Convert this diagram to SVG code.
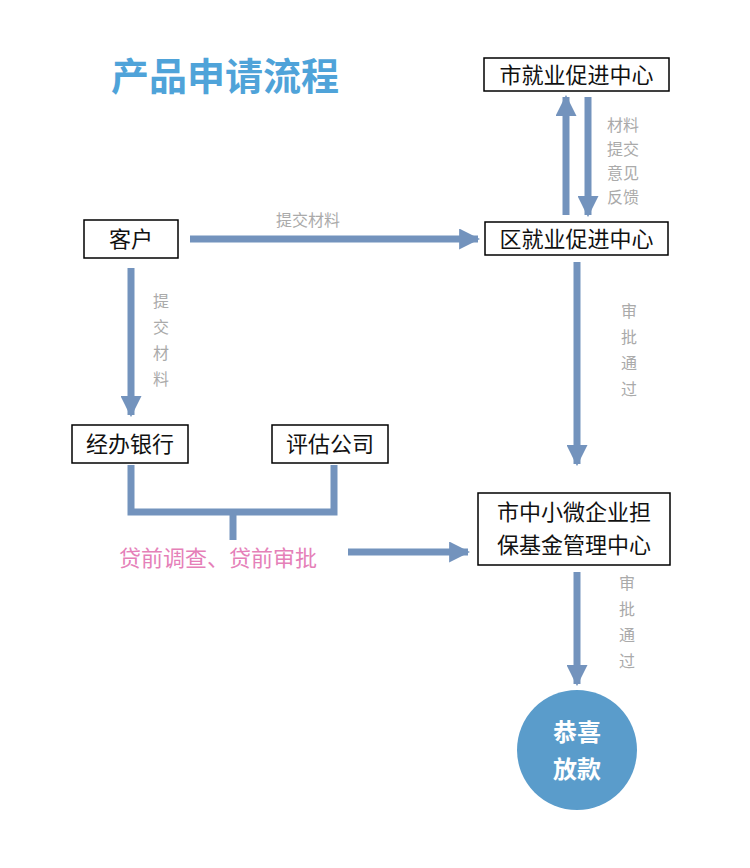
<svg xmlns="http://www.w3.org/2000/svg" width="750" height="868" viewBox="0 0 750 868">
<defs>
<marker id="ah" viewBox="0 0 10 10" refX="9" refY="5" markerWidth="3" markerHeight="3" orient="auto" markerUnits="strokeWidth"><path d="M0,0 L10,5 L0,10 z" fill="#7393bd"/></marker>
<style>
.box{fill:#fff;stroke:#000;stroke-width:1.5}
.t{font-family:"Liberation Sans","Noto Sans CJK SC",sans-serif;font-size:22px;fill:#111;text-anchor:middle}
.lb{font-family:"Liberation Sans","Noto Sans CJK SC",sans-serif;font-size:16px;fill:#aaa;text-anchor:middle}
.c{fill:none;stroke:#7393bd;stroke-width:7}
.a{marker-end:url(#ah)}
</style>
</defs>
<rect width="750" height="868" fill="#fff"/>
<text x="225" y="90" font-family="'Noto Sans CJK SC',sans-serif" font-weight="bold" font-size="38" fill="#4fa3d9" text-anchor="middle">产品申请流程</text>
<g id="connectors">
<line class="c a" x1="190" y1="239" x2="478" y2="239"/>
<line class="c a" x1="566" y1="215" x2="566" y2="97"/>
<line class="c a" x1="588" y1="97" x2="588" y2="215"/>
<line class="c a" x1="131" y1="268" x2="131" y2="415"/>
<line class="c a" x1="577" y1="262" x2="577" y2="464"/>
<polyline class="c" points="131,465 131,512 334,512 334,465"/>
<line class="c" x1="233" y1="512" x2="233" y2="540"/>
<line class="c a" x1="348" y1="552" x2="468" y2="552"/>
<line class="c a" x1="577" y1="572" x2="577" y2="684"/>
</g>
<g id="labels">
<text class="lb" x="308" y="226">提交材料</text>
<text class="lb" x="623" y="131">材料</text><text class="lb" x="623" y="155">提交</text><text class="lb" x="623" y="179">意见</text><text class="lb" x="623" y="203">反馈</text>
<text class="lb" x="161" y="307">提</text><text class="lb" x="161" y="333">交</text><text class="lb" x="161" y="359">材</text><text class="lb" x="161" y="385">料</text>
<text class="lb" x="629" y="317">审</text><text class="lb" x="629" y="343">批</text><text class="lb" x="629" y="369">通</text><text class="lb" x="629" y="395">过</text>
<text class="lb" x="627" y="589">审</text><text class="lb" x="627" y="615">批</text><text class="lb" x="627" y="641">通</text><text class="lb" x="627" y="667">过</text>
<text x="218" y="566" font-family="'Liberation Sans','Noto Sans CJK SC',sans-serif" font-size="22" fill="#e580b8" text-anchor="middle">贷前调查、贷前审批</text>
</g>
<g id="n1"><rect class="box" x="484" y="58" width="185" height="33"/><text class="t" x="576.5" y="83">市就业促进中心</text></g>
<g id="n2"><rect class="box" x="485" y="222" width="183" height="33"/><text class="t" x="576.5" y="247">区就业促进中心</text></g>
<g id="n3"><rect class="box" x="84" y="220" width="94" height="38"/><text class="t" x="131" y="247">客户</text></g>
<g id="n4"><rect class="box" x="72" y="425" width="116" height="38"/><text class="t" x="130" y="452">经办银行</text></g>
<g id="n5"><rect class="box" x="272" y="425" width="116" height="38"/><text class="t" x="330" y="452">评估公司</text></g>
<g id="n6"><rect class="box" x="478" y="493" width="192" height="72"/><text class="t" x="574" y="520">市中小微企业担</text><text class="t" x="574" y="553">保基金管理中心</text></g>
<g id="n7"><circle cx="577" cy="750" r="60" fill="#5a9ccb"/><text x="577" y="741" font-family="'Noto Sans CJK SC',sans-serif" font-weight="bold" font-size="24" fill="#fff" text-anchor="middle">恭喜</text><text x="577" y="778" font-family="'Noto Sans CJK SC',sans-serif" font-weight="bold" font-size="24" fill="#fff" text-anchor="middle">放款</text></g>
</svg>
